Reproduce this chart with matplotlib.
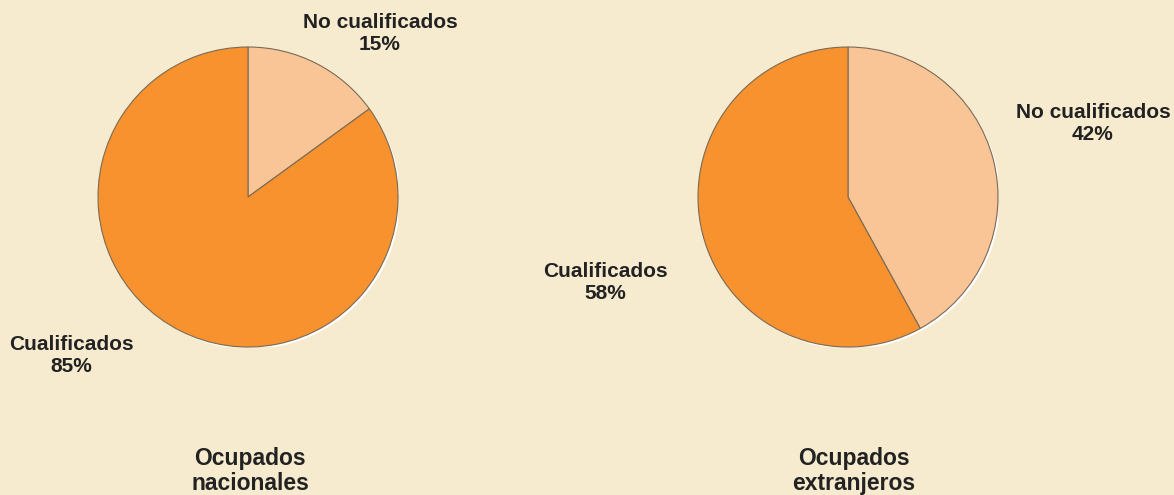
import matplotlib.pyplot as plt
from matplotlib.patches import Circle

categories = ["No cualificados", "Cualificados"]
nacionales = [15, 85]
extranjeros = [42, 58]
titles = ["Ocupados\nnacionales", "Ocupados\nextranjeros"]

colors = ["#F9C596", "#F7922E"]
bg = "#F6EBCF"
txt = "#222222"

plt.rcParams['font.family'] = ['Liberation Sans', 'DejaVu Sans']

fig = plt.figure(figsize=(11.74, 4.95), dpi=100, facecolor=bg)
W, H = 1174, 495

# pie centres in pixels (x, y from top) and radius
layout = [(248, 197), (848, 197)]
R = 150
# label positions in pie units (No cualificados, Cualificados)
label_pos = [[(0.88, 1.087), (-1.18, -1.06)],
             [(1.633, 0.49), (-1.62, -0.573)]]
title_pos = [(0.013, -1.827), (0.04, -1.827)]

for i, vals in enumerate([nacionales, extranjeros]):
    cx, cy = layout[i]
    ax = fig.add_axes([(cx - R) / W, (H - cy - R) / H, 2 * R / W, 2 * R / H])
    ax.set_facecolor(bg)
    # faint white shadow at the lower right
    ax.add_patch(Circle((0.014, -0.014), 1.0, facecolor="white", edgecolor="none",
                        zorder=0))
    wedges, _ = ax.pie(vals, colors=colors, startangle=90, counterclock=False,
                       radius=1, wedgeprops=dict(edgecolor="#7a6a55", linewidth=0.8))
    for w in wedges:
        w.set_zorder(1)
    ax.set_xlim(-1, 1)
    ax.set_ylim(-1, 1)
    ax.axis('off')
    for j, cat in enumerate(categories):
        x, y = label_pos[i][j]
        ax.text(x, y, f"{cat}\n{vals[j]}%", ha='center', va='center',
                fontsize=15, fontweight='bold', color=txt, linespacing=1.2,
                clip_on=False)
    tx, ty = title_pos[i]
    ax.text(tx, ty, titles[i], ha='center', va='center', fontsize=16.5,
            fontweight='bold', color=txt, linespacing=1.15, clip_on=False)

fig.savefig("out.png", dpi=100, facecolor=bg)
